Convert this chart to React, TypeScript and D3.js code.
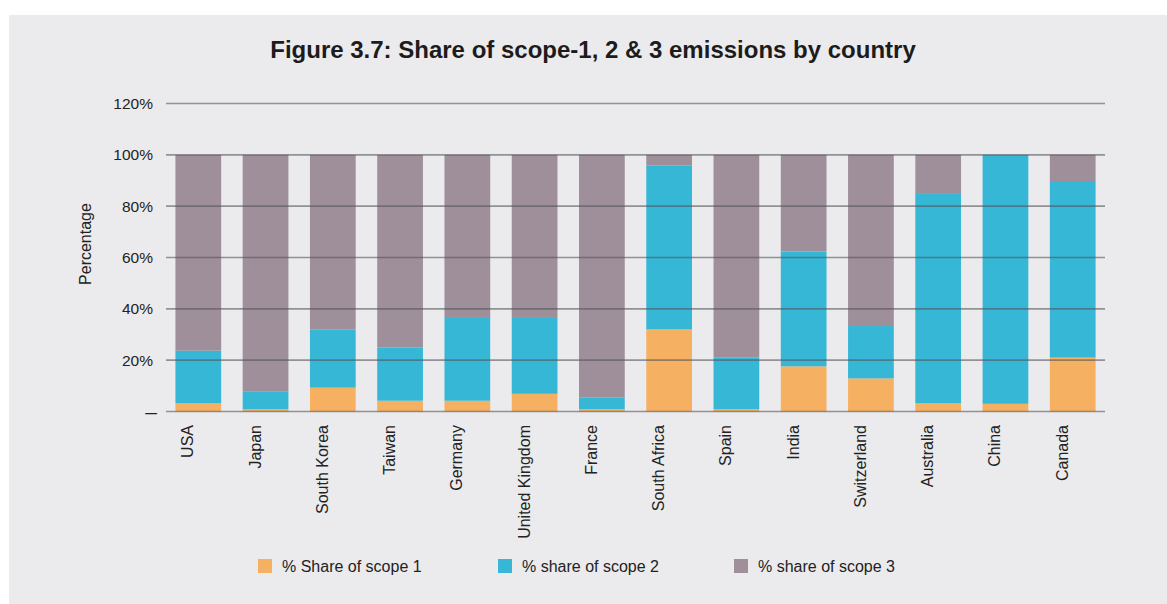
import React from "react";
import * as d3 from "d3";

// Countries along the x axis
const countries = [
  "USA",
  "Japan",
  "South Korea",
  "Taiwan",
  "Germany",
  "United Kingdom",
  "France",
  "South Africa",
  "Spain",
  "India",
  "Switzerland",
  "Australia",
  "China",
  "Canada",
];

// Share of emissions per scope (%), one value per country
const scope1 = [3.2, 0.9, 9.3, 4.2, 4.2, 6.9, 0.9, 32.0, 0.9, 17.6, 12.9, 3.2, 3.0, 21.0];
const scope2 = [20.5, 7.0, 22.6, 20.7, 32.6, 29.9, 4.6, 63.9, 20.2, 44.7, 20.4, 81.9, 97.0, 68.8];
const scope3 = [76.3, 92.1, 68.1, 75.1, 63.2, 63.2, 94.5, 4.1, 78.9, 37.7, 66.7, 14.9, 0.0, 10.2];

const seriesKeys = ["s1", "s2", "s3"];
const seriesLabels = ["% Share of scope 1", "% share of scope 2", "% share of scope 3"];
const seriesColors = ["#f5b062", "#36b7d5", "#9e8f9b"];

const yTicks = [0, 20, 40, 60, 80, 100, 120];

const title = "Figure 3.7: Share of scope-1, 2 & 3 emissions by country";
const yTitle = "Percentage";

const W = 1167;
const H = 604;
const FONT = "'Liberation Sans', Arial, Helvetica, sans-serif";

export default function App() {
  const left = 166;
  const right = 1105;
  const top = 103.5;
  const bottom = 411.5;

  const x = d3
    .scaleBand<string>()
    .domain(countries)
    .range([left, right])
    .paddingInner(0.32)
    .paddingOuter(0.14);

  const y = d3.scaleLinear().domain([0, 120]).range([bottom, top]);

  const rows = countries.map((c, i) => ({
    country: c,
    s1: scope1[i],
    s2: scope2[i],
    s3: scope3[i],
  }));

  const stacked = d3.stack<any>().keys(seriesKeys)(rows);

  const legendX = [258, 498, 734];

  return (
    <div style={{ position: "absolute", left: 0, top: 0 }}>
      <svg width={W} height={H} style={{ display: "block" }} fontFamily={FONT}>
        <rect x={0} y={0} width={W} height={H} fill="#ffffff" />
        <rect x={9} y={15} width={W - 9} height={H - 15} fill="#ebebed" />

        <text
          x={593}
          y={58}
          textAnchor="middle"
          fontSize={24}
          fontWeight="bold"
          fill="#1c1c1c"
        >
          {title}
        </text>

        {/* stacked bars */}
        {stacked.map((layer, li) => (
          <g key={seriesKeys[li]} fill={seriesColors[li]}>
            {layer.map((d, i) => (
              <rect
                key={countries[i]}
                x={x(countries[i])}
                y={y(d[1])}
                width={x.bandwidth()}
                height={Math.max(0, y(d[0]) - y(d[1]))}
              />
            ))}
          </g>
        ))}

        {/* gridlines drawn over the bars */}
        {yTicks.map((t) => (
          <line
            key={t}
            x1={left}
            x2={right}
            y1={y(t)}
            y2={y(t)}
            stroke="#55555c"
            strokeOpacity={0.6}
            strokeWidth={1.6}
          />
        ))}

        {/* y tick labels */}
        {yTicks.map((t) =>
          t === 0 ? (
            <text
              key={t}
              x={157}
              y={y(t)}
              textAnchor="end"
              dominantBaseline="central"
              fontSize={21}
              fill="#222"
            >
              –
            </text>
          ) : (
            <text
              key={t}
              x={153}
              y={y(t)}
              textAnchor="end"
              dominantBaseline="central"
              fontSize={15.5}
              fill="#222"
            >
              {`${t}%`}
            </text>
          )
        )}

        <text
          transform={`translate(91,244) rotate(-90)`}
          textAnchor="middle"
          fontSize={16}
          fill="#222"
        >
          {yTitle}
        </text>

        {/* category labels */}
        {countries.map((c) => (
          <text
            key={c}
            transform={`translate(${(x(c) as number) + x.bandwidth() / 2 - 5},425) rotate(-90)`}
            textAnchor="end"
            fontSize={16}
            fill="#222"
          >
            {c}
          </text>
        ))}

        {/* legend */}
        {seriesLabels.map((lab, i) => (
          <g key={lab} transform={`translate(${legendX[i]},559)`}>
            <rect width={14} height={14} fill={seriesColors[i]} />
            <text x={24} y={7} dominantBaseline="central" fontSize={16} fill="#222">
              {lab}
            </text>
          </g>
        ))}
      </svg>
    </div>
  );
}
